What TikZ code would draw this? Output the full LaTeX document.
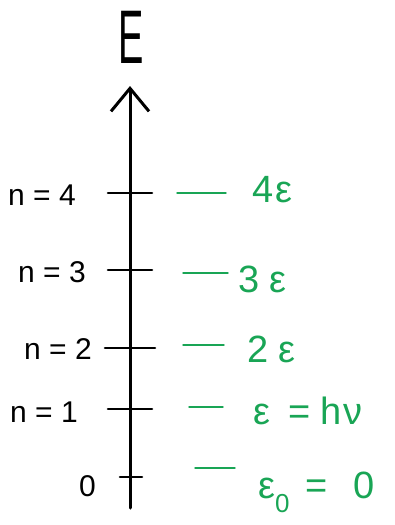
\documentclass[tikz,border=0pt]{standalone}
\usepackage{fontspec}
\setmainfont{Liberation Sans}
\usetikzlibrary{arrows.meta}
\definecolor{verde}{RGB}{25,165,85}

\begin{document}
\begin{tikzpicture}[x=1pt, y=-1pt, line cap=round,
    eje/.style={line width=3pt, black},
    marca/.style={line width=2.6pt, black},
    nivel/.style={line width=1.4pt, verde},
    etq/.style={font=\fontsize{30}{32}\selectfont, anchor=east, inner sep=0pt},
    energia/.style={font=\fontsize{38}{40}\selectfont, verde, anchor=west, inner sep=0pt}]
    \useasboundingbox (0,0) rectangle (395,525);

    % Eje de energia
    \coordinate (abajo) at (130,508);
    \coordinate (arriba) at (130,86);
    \draw[eje, -{Straight Barb[length=23pt,width=38pt]}] (abajo) -- (arriba);
    \node (E) at (131,37) {\fontsize{76}{78}\selectfont\scalebox{0.5}[1]{E}};

    % Marcas de los niveles
    \foreach \nom/\y/\a/\b in {cuatro/193/108/152, tres/270/108/152, dos/348/105/155, uno/409/108/152, cero/477/120/142}{
        \coordinate (\nom-i) at (\a,\y);
        \coordinate (\nom-d) at (\b,\y);
        \draw[marca] (\nom-i) -- (\nom-d);
    }

    % Etiquetas n
    \node[etq] (n4) at (76,195) {n = 4};
    \node[etq] (n3) at (86,272) {n = 3};
    \node[etq] (n2) at (92,349) {n = 2};
    \node[etq] (n1) at (78,412) {n = 1};
    \node[etq] (n0) at (96,486) {0};

    % Niveles de energia
    \foreach \nom/\y/\a/\b in {cuatro/193/177/226, tres/273/183/228, dos/345/183/224, uno/407/189/223, cero/468/195/235}{
        \coordinate (\nom-a) at (\a,\y);
        \coordinate (\nom-b) at (\b,\y);
        \draw[nivel] (\nom-a) -- (\nom-b);
    }
    \node[energia] (e4) at (252,190) {4\hspace{2pt}ε};
    \node[energia] (e3) at (238,279) {3\hspace{10pt}ε};
    \node[energia] (e2) at (247,349) {2\hspace{10pt}ε};
    \node[energia] (e1) at (253,411) {ε\hspace{18pt}=\hspace{10pt}h\hspace{2pt}ν};
    \node[energia] (e0) at (258,492) {ε\raisebox{-14pt}{\fontsize{26}{26}\selectfont 0}\hspace{16pt}=\hspace{26pt}0};
\end{tikzpicture}
\end{document}
